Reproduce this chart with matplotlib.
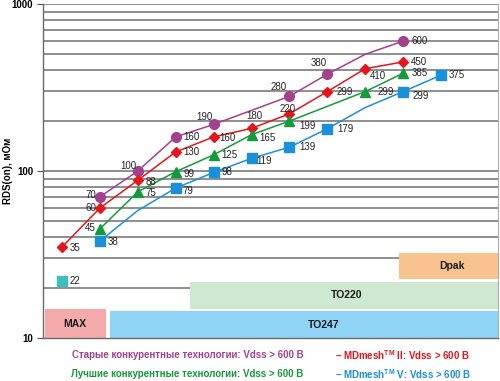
import numpy as np
import matplotlib
matplotlib.use('Agg')
import matplotlib.pyplot as plt
from matplotlib.patches import Rectangle

FONT = ['Liberation Sans', 'DejaVu Sans']
plt.rcParams['mathtext.fontset'] = 'custom'
plt.rcParams['mathtext.bf'] = 'Liberation Sans:bold'
plt.rcParams['mathtext.rm'] = 'Liberation Sans'

# positions along the (unlabelled) x axis
x_idx = np.arange(11)

# values, nan = no point
old_comp = [np.nan, 70, 100, 160, 190, np.nan, 280, 380, np.nan, 600, np.nan]
best_comp = [np.nan, 45, 75, 99, 125, 165, 199, np.nan, 299, 385, np.nan]
mdmesh2 = [35, 60, 88, 130, 160, 180, 220, 299, 410, 450, np.nan]
mdmesh5 = [np.nan, 38, np.nan, 79, 98, 119, 139, 179, np.nan, 299, 375]
# unmarked bends of the curves
old_comp_bends = {8: 500}
mdmesh5_bends = {2: 58, 8: 240}
single_x = 0
single_val = 22

# packages: name, x from, x to, rds from, rds to
packages = ['MAX', 'TO247', 'TO220', 'Dpak']
pkg_x = [(-0.45, 1.16), (1.26, 11.5), (3.37, 11.5), (8.89, 11.5)]
pkg_y = [(10, 14.9), (10, 14.5), (15.0, 21.6), (22.5, 32.1)]
pkg_colors = ['#f4a9ab', '#8fd4f5', '#cfe8d2', '#f9c390']
pkg_text_x = [0.35, 6.9, 7.5, 10.3]

legend_old = 'Старые конкурентные технологии: Vdss > 600 В'
legend_best = 'Лучшие конкурентные технологии: Vdss > 600 В'
legend_md2 = '– MDmesh$^{\\mathbf{TM}}$ II: Vdss > 600 B'
legend_md5 = '– MDmesh$^{\\mathbf{TM}}$ V: Vdss > 600 B'

c_old = '#a3418f'
c_best = '#139a3a'
c_md2 = '#e4161c'
c_md5 = '#1b90da'
c_single = '#3dbfbf'

# label offsets in pixels (dx, dy, ha)
off_old = {1: (-4, 2, 'right'), 2: (-1, 5, 'right'), 3: (8, 0, 'left'), 4: (-1, 7, 'right'),
           6: (-3, 9, 'right'), 7: (-1, 11, 'right'), 9: (8, 0, 'left')}
off_md2 = {0: (8, -1, 'left'), 1: (-4, 0, 'right'), 2: (8, -2, 'left'), 3: (8, 0, 'left'),
           4: (6, -1, 'left'), 5: (3, 12, 'center'), 6: (-2, 5, 'center'), 7: (9, 0, 'left'),
           8: (5, -7, 'left'), 9: (8, 0, 'left')}
off_best = {1: (-4, 1, 'right'), 2: (8, -1, 'left'), 3: (8, -2, 'left'), 4: (8, 0, 'left'),
            5: (8, -3, 'left'), 6: (10, -5, 'left'), 8: (12, 0, 'left'), 9: (8, 0, 'left')}
off_md5 = {1: (8, -1, 'left'), 3: (7, -3, 'left'), 4: (8, 0, 'left'), 5: (5, -3, 'left'),
           6: (10, 0, 'left'), 7: (10, 0, 'left'), 9: (9, -4, 'left'), 10: (8, 0, 'left')}


def line_points(vals, bends):
    v = np.array(vals, dtype=float)
    for k, b in bends.items():
        v[k] = b
    ok = ~np.isnan(v)
    return x_idx[ok], v[ok]


fig = plt.figure(figsize=(5.0, 3.81), dpi=100)
ax = fig.add_axes([0.086, 0.1129, 0.91, 0.8766])
ax.set_yscale('log')
ax.set_ylim(10, 1000)
ax.set_xlim(-0.5, 11.5)

# horizontal grid at every log step
for dec in [10, 100]:
    for m in range(2, 11):
        ax.axhline(dec * m, color='#707070', lw=1.1, zorder=1)

for i, name in enumerate(packages):
    x0, x1 = pkg_x[i]
    y0, y1 = pkg_y[i]
    ax.add_patch(Rectangle((x0, y0), x1 - x0, y1 - y0, facecolor=pkg_colors[i],
                           edgecolor='none', zorder=2))
    ax.text(pkg_text_x[i], np.sqrt(y0 * y1), name, ha='center', va='center',
            fontsize=7.5, fontweight='bold', family=FONT, color='#1a1a1a', zorder=3)

series = [
    (old_comp, old_comp_bends, c_old, 'o', 7, off_old),
    (mdmesh2, {}, c_md2, 'D', 5.5, off_md2),
    (best_comp, {}, c_best, '^', 7.5, off_best),
    (mdmesh5, mdmesh5_bends, c_md5, 's', 7, off_md5),
]
for vals, bends, col, mk, ms, offs in series:
    lx, ly = line_points(vals, bends)
    ax.plot(lx, ly, color=col, lw=1.1, zorder=4)
    v = np.array(vals, dtype=float)
    ok = ~np.isnan(v)
    ax.plot(x_idx[ok], v[ok], ls='none', marker=mk, ms=ms, color=col,
            markeredgecolor=col, zorder=5)
    for k in x_idx[ok]:
        dx, dy, ha = offs[k]
        ax.annotate(f'{int(v[k])}', (k, v[k]), xytext=(dx, dy), textcoords='offset pixels',
                    ha=ha, va='center', fontsize=7, family=FONT, color='#222222', zorder=6)

ax.plot([single_x], [single_val], ls='none', marker='s', ms=6.5, color=c_single, zorder=5)
ax.annotate(f'{single_val}', (single_x, single_val), xytext=(8, 0), textcoords='offset pixels',
            ha='left', va='center', fontsize=7, family=FONT, color='#222222')

ax.set_xticks([])
ax.set_yticks([10, 100, 1000])
ax.set_yticklabels(['10', '100', '1000'], fontsize=7, fontweight='bold', family=FONT)
ax.yaxis.set_minor_locator(matplotlib.ticker.NullLocator())
ax.tick_params(axis='y', length=4, width=0.8, color='#555555', pad=3)
for s in ['left', 'bottom']:
    ax.spines[s].set_color('#6a6a6a')
    ax.spines[s].set_linewidth(1.0)
ax.spines['right'].set_color('#b0b0b0')
ax.spines['top'].set_visible(False)
ax.set_ylabel('RDS(on), мОм', fontsize=7, fontweight='bold', family=FONT)
ax.yaxis.set_label_coords(-0.066, 0.5)

fig.text(0.144, 1 - 355 / 381, legend_old, color=c_old, fontsize=7, fontweight='bold',
         family=FONT, va='center')
fig.text(0.142, 1 - 374 / 381, legend_best, color=c_best, fontsize=7, fontweight='bold',
         family=FONT, va='center')
fig.text(0.67, 1 - 355 / 381, legend_md2, color=c_md2, fontsize=7, fontweight='bold',
         family=FONT, va='center')
fig.text(0.67, 1 - 374 / 381, legend_md5, color=c_md5, fontsize=7, fontweight='bold',
         family=FONT, va='center')

fig.savefig('out.png', dpi=100, facecolor='white')
